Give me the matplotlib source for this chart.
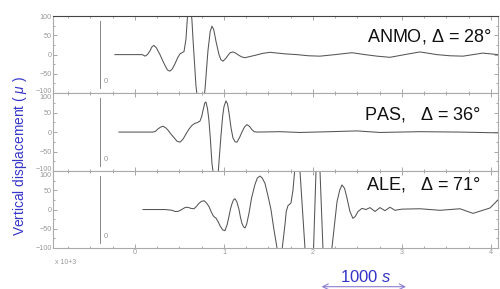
import numpy as np
import matplotlib.pyplot as plt
import matplotlib.transforms as mtransforms
from matplotlib.ticker import MultipleLocator

# time in units of 10^3 s, amplitude in microns
anmo_t = [-0.225, 0.079, 0.100, 0.112, 0.140, 0.169, 0.190, 0.213, 0.240, 0.281, 0.310, 0.337,
          0.365, 0.393, 0.420, 0.449, 0.480, 0.506, 0.528, 0.551, 0.573, 0.596, 0.618, 0.640,
          0.652, 0.685, 0.719, 0.753, 0.787, 0.820, 0.845, 0.865, 0.885, 0.910, 0.944, 0.965,
          0.989, 1.020, 1.045, 1.070, 1.101, 1.130, 1.169, 1.200, 1.236, 1.290, 1.348, 1.430,
          1.517, 1.600, 1.685, 1.820, 1.950, 2.079, 2.247, 2.438, 2.584, 2.720, 2.865, 3.030,
          3.202, 3.393, 3.540, 3.685, 3.910, 4.079]
anmo_a = [0, 0, -2, -4, 0, 10, 20, 24, 18, 0, -15, -28,
          -40, -43, -37, -24, -8, 2, 5, 8, 40, 120, 140, 90,
          40, -80, -150, -160, -90, 10, 60, 74, 65, 35, 0, -13,
          -17, -10, -2, 5, 7, 4, -2, -6, -8, -5, -2, 3,
          6, 4, 2, 0, -3, -4, 0, 5, 0, -4, -7, 0,
          7, 0, -3, -4, 4, 0]

pas_t = [-0.180, 0.202, 0.230, 0.258, 0.290, 0.315, 0.345, 0.371, 0.400, 0.438, 0.470, 0.506,
         0.540, 0.573, 0.605, 0.640, 0.670, 0.697, 0.730, 0.750, 0.764, 0.785, 0.798, 0.815,
         0.831, 0.848, 0.865, 0.899, 0.933, 0.966, 0.985, 1.000, 1.022, 1.040, 1.056, 1.080,
         1.101, 1.125, 1.146, 1.175, 1.202, 1.230, 1.258, 1.285, 1.315, 1.340, 1.371, 1.629,
         1.854, 2.191, 2.494, 2.753, 3.202, 3.652, 4.079]
pas_a = [0, 0, 2, 8, 13, 15, 11, 5, -4, -14, -23, -26,
         -18, -5, 7, 17, 22, 24, 28, 40, 55, 75, 77, 60,
         30, -20, -80, -140, -110, -10, 40, 65, 80, 72, 50, 10,
         -15, -25, -26, -14, 0, 13, 19, 15, 6, 1, 0, 1,
         -1, 1, 3, -1, 1, 0, -2]

ale_t = [0.090, 0.337, 0.380, 0.416, 0.450, 0.483, 0.510, 0.539, 0.562, 0.584, 0.605, 0.629,
         0.663, 0.690, 0.719, 0.745, 0.775, 0.800, 0.831, 0.855, 0.876, 0.893, 0.910, 0.935,
         0.955, 0.985, 1.011, 1.035, 1.056, 1.075, 1.090, 1.107, 1.124, 1.145, 1.169, 1.185,
         1.202, 1.220, 1.236, 1.255, 1.281, 1.310, 1.348, 1.375, 1.404, 1.430, 1.461, 1.495,
         1.528, 1.560, 1.596, 1.640, 1.685, 1.700, 1.719, 1.753, 1.775, 1.798, 1.820, 1.854,
         1.910, 1.955, 2.000, 2.034, 2.056, 2.079, 2.112, 2.169, 2.213, 2.270, 2.300, 2.326,
         2.355, 2.382, 2.415, 2.449, 2.475, 2.506, 2.551, 2.596, 2.640, 2.697, 2.753, 2.809,
         2.865, 2.921, 3.000, 3.202, 3.427, 3.652, 3.798, 3.989, 4.079]
ale_a = [0, 0, -1, -2, -5, -5, -2, 2, 5, 6, 5, 3,
         2, 8, 16, 21, 23, 18, 8, -5, -15, -20, -22, -32,
         -42, -53, -55, -40, -18, 3, 15, 25, 28, 20, 0, -20,
         -36, -45, -48, -38, -10, 30, 65, 82, 87, 82, 68, 35,
         0, -50, -100, -130, -40, -5, 10, 17, 50, 110, 180, 100,
         -100, -250, -150, 100, 200, 100, -100, -220, -100, 20, 50, 64,
         55, 30, -5, -23, -18, -5, 3, 0, 5, -5, 5, -3,
         6, -2, 1, 2, -2, 2, -10, 4, 25]

stations = ['ANMO, $\\Delta$ = 28°', 'PAS,   $\\Delta$ = 36°', 'ALE,   $\\Delta$ = 71°']
traces = [(anmo_t, anmo_a), (pas_t, pas_a), (ale_t, ale_a)]
marker_t = -0.393

plt.rcParams['font.family'] = ['Liberation Sans', 'DejaVu Sans']
plt.rcParams['mathtext.fontset'] = 'custom'
plt.rcParams['mathtext.rm'] = 'Liberation Sans'
plt.rcParams['mathtext.it'] = 'Liberation Sans:italic'

fig = plt.figure(figsize=(5, 2.89), dpi=100)
boxes = [[0.106, 0.678, 0.89, 0.266], [0.106, 0.408, 0.89, 0.270], [0.106, 0.142, 0.89, 0.266]]
label_pos = [(0.985, 0.73), (0.962, 0.72), (0.962, 0.82)]
gray = '#999999'
up = mtransforms.ScaledTranslation(0, 3 / 100, fig.dpi_scale_trans)
down = mtransforms.ScaledTranslation(0, -3 / 100, fig.dpi_scale_trans)

for i in range(3):
    ax = fig.add_axes(boxes[i])
    t, a = traces[i]
    ax.plot(t, a, color='#555555', lw=0.75)
    ax.plot([marker_t, marker_t], [-88, 88], color='#888888', lw=0.7)
    ax.text(marker_t + 0.04, -70, '0', color=gray, fontsize=5.5, va='center')
    ax.set_xlim(-0.921, 4.079)
    ax.set_ylim(-100, 100)
    ax.xaxis.set_major_locator(MultipleLocator(1))
    ax.xaxis.set_minor_locator(MultipleLocator(0.25))
    ax.set_yticks([-100, -50, 0, 50, 100])
    ax.yaxis.set_minor_locator(MultipleLocator(25))
    ax.tick_params(which='both', direction='in', top=True, right=True, color=gray,
                   labelcolor=gray, labelsize=5.2, width=0.6, pad=1)
    ax.tick_params(which='major', length=3)
    ax.tick_params(which='minor', length=1.5)
    for s in ax.spines.values():
        s.set_color('#aaaaaa')
        s.set_linewidth(0.8)
    if i == 0:
        ax.spines['top'].set_color('#444444')
    if i < 2:
        ax.tick_params(labelbottom=False)
    ylabs = ax.get_yticklabels()
    if i > 0:
        ylabs[-1].set_transform(ylabs[-1].get_transform() + down)
    if i < 2:
        ylabs[0].set_transform(ylabs[0].get_transform() + up)
    ax.text(label_pos[i][0], label_pos[i][1], stations[i], transform=ax.transAxes,
            ha='right', va='center', fontsize=13, color='#111111')

fig.text(0.04, 0.46, 'Vertical displacement ( $\\mu$ )', rotation=90, ha='center', va='center',
         color='#3535c8', fontsize=9.9)
fig.text(0.11, 0.093, 'x 10+3', color=gray, fontsize=5, va='center')
fig.text(0.732, 0.042, '1000 $\\mathit{s}$', color='#3535c8', fontsize=12, ha='center', va='center')
plt.annotate('', xy=(0.643, 0.008), xytext=(0.812, 0.008), xycoords='figure fraction',
             arrowprops=dict(arrowstyle='<->', color='#8c7fd0', lw=0.8, shrinkA=0, shrinkB=0))

plt.savefig('out.png', dpi=100, facecolor='white')
